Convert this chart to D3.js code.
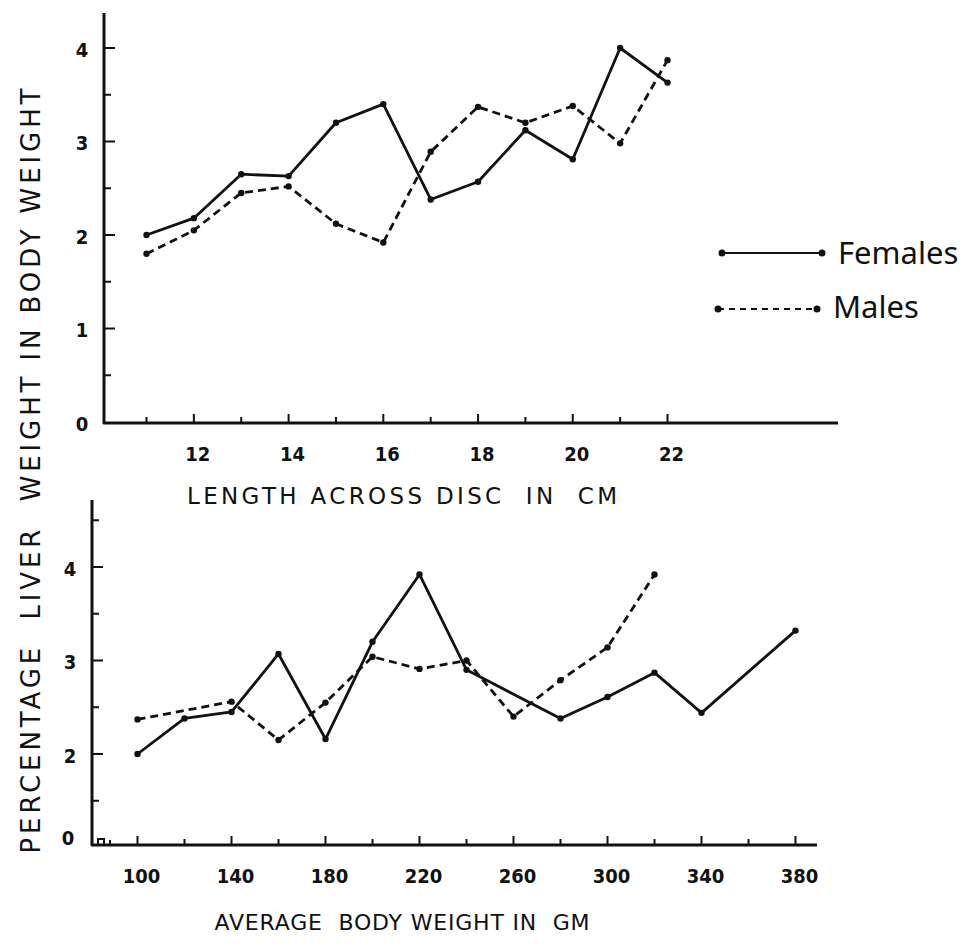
<!DOCTYPE html>
<html>
<head>
<meta charset="utf-8">
<script src="https://cdn.jsdelivr.net/npm/d3@7/dist/d3.min.js"></script>
<style>
  html, body { margin: 0; padding: 0; background: #fff; }
  svg { display: block; }
</style>
</head>
<body>
<svg id="chart" width="970" height="947"></svg>
<script>
// ---------------- DATA ----------------
// Upper panel: length across disc (cm)
const topLengths      = [11, 12, 13, 14, 15, 16, 17, 18, 19, 20, 21, 22];
const topFemales      = [2.00, 2.18, 2.65, 2.63, 3.20, 3.40, 2.38, 2.57, 3.12, 2.81, 4.00, 3.63];
const topMales        = [1.80, 2.05, 2.45, 2.52, 2.12, 1.92, 2.89, 3.37, 3.20, 3.38, 2.98, 3.87];
const topXTickValues  = [11, 12, 13, 14, 15, 16, 17, 18, 19, 20, 21, 22];
const topXTickLabels  = [12, 14, 16, 18, 20, 22];
const topYTickValues  = [0.5, 1, 1.5, 2, 2.5, 3, 3.5, 4];
const topYTickLabels  = [0, 1, 2, 3, 4];

// Lower panel: average body weight (gm)
const botFemaleWeights = [100, 120, 140, 160, 180, 200, 220, 240, 280, 300, 320, 340, 380];
const botFemales       = [2.00, 2.38, 2.45, 3.07, 2.16, 3.20, 3.92, 2.90, 2.38, 2.61, 2.87, 2.44, 3.32];
const botMaleWeights   = [100, 140, 160, 180, 200, 220, 240, 260, 280, 300, 320];
const botMales         = [2.37, 2.56, 2.15, 2.55, 3.04, 2.91, 3.00, 2.40, 2.79, 3.14, 3.92];
const botXTickValues   = [100, 120, 140, 160, 180, 200, 220, 240, 260, 280, 300, 320, 340, 360, 380];
const botXTickLabels   = [100, 140, 180, 220, 260, 300, 340, 380];
const botYTickValues   = [1.5, 2, 2.5, 3, 3.5, 4, 4.5];
const botYTickLabels   = [2, 3, 4];

const seriesNames = ["Females", "Males"];
const xTitleTop = "LENGTH ACROSS DISC  IN  CM";
const xTitleBot = "AVERAGE  BODY WEIGHT IN  GM";
const yTitle = "PERCENTAGE  LIVER  WEIGHT IN BODY WEIGHT";

// ---------------- LAYOUT ----------------
const svg = d3.select("#chart");
const ink = "#111";
const tickFont = "'DejaVu Sans Condensed', 'DejaVu Sans', sans-serif";

// Upper panel geometry
const T = { axisX: 104, axisY: 423, top: 13, right: 838 };
const xTop = d3.scaleLinear().domain([11, 22]).range([146.5, 667.5]);
const yTop = d3.scaleLinear().domain([0, 4]).range([422, 48]);

// Lower panel geometry
const B = { axisX: 92, axisY: 845, top: 500, right: 817 };
const xBot = d3.scaleLinear().domain([100, 380]).range([137.5, 795.5]);
const yBot = d3.scaleLinear().domain([2, 4]).range([754, 567]);

function drawPanel(g, P, xs, ys, xTicks, xLabels, yTicks, yLabels, yZeroLabel) {
  g.append("path")
    .attr("d", `M${P.axisX},${P.top}L${P.axisX},${P.axisY}L${P.right},${P.axisY}`)
    .attr("fill", "none").attr("stroke", ink).attr("stroke-width", 3)
    .attr("stroke-linejoin", "round");

  g.selectAll(".xt").data(xTicks).enter().append("line")
    .attr("x1", d => xs(d)).attr("x2", d => xs(d))
    .attr("y1", P.axisY)
    .attr("y2", d => P.axisY - (xLabels.includes(d) ? 9 : 6))
    .attr("stroke", ink).attr("stroke-width", 2);

  g.selectAll(".xl").data(xLabels).enter().append("text")
    .attr("x", d => xs(d) + 4).attr("y", P.axisY + 38)
    .attr("text-anchor", "middle")
    .attr("font-family", tickFont).attr("font-weight", "bold")
    .attr("font-size", 20).attr("fill", ink)
    .text(d => d);

  g.selectAll(".yt").data(yTicks).enter().append("line")
    .attr("x1", P.axisX).attr("x2", d => P.axisX + (Number.isInteger(d) ? 11 : 7))
    .attr("y1", d => ys(d)).attr("y2", d => ys(d))
    .attr("stroke", ink).attr("stroke-width", 2);

  g.selectAll(".yl").data(yLabels).enter().append("text")
    .attr("x", P.axisX - 22).attr("y", d => ys(d) + 3)
    .attr("text-anchor", "middle").attr("dominant-baseline", "middle")
    .attr("font-family", tickFont).attr("font-weight", "bold")
    .attr("font-size", 20).attr("fill", ink)
    .text(d => d);

  if (yZeroLabel !== null) {
    g.append("text")
      .attr("x", P.axisX - 24).attr("y", P.axisY - 6)
      .attr("text-anchor", "middle").attr("dominant-baseline", "middle")
      .attr("font-family", tickFont).attr("font-weight", "bold")
      .attr("font-size", 20).attr("fill", ink)
      .text(yZeroLabel);
  }
}

function drawSeries(g, xs, ys, xv, yv, dashed) {
  const pts = xv.map((x, i) => [x, yv[i]]);
  const line = d3.line().x(d => xs(d[0])).y(d => ys(d[1]));
  g.append("path").datum(pts)
    .attr("d", line)
    .attr("fill", "none").attr("stroke", ink)
    .attr("stroke-width", 2.8)
    .attr("stroke-dasharray", dashed ? "8,5" : null)
    .attr("stroke-linejoin", "round");
  g.selectAll(null).data(pts).enter().append("circle")
    .attr("cx", d => xs(d[0])).attr("cy", d => ys(d[1]))
    .attr("r", 3.2).attr("fill", ink);
}

// Upper panel
const gTop = svg.append("g");
drawPanel(gTop, T, xTop, yTop, topXTickValues, topXTickLabels, topYTickValues, topYTickLabels, null);
drawSeries(gTop, xTop, yTop, topLengths, topMales, true);
drawSeries(gTop, xTop, yTop, topLengths, topFemales, false);

// Lower panel
const gBot = svg.append("g");
drawPanel(gBot, B, xBot, yBot, botXTickValues, botXTickLabels, botYTickValues, botYTickLabels, 0);
// axis break marks at lower-left corner
gBot.append("path")
  .attr("d", `M${B.axisX + 6},${B.axisY}l0,-6l6,0l0,6M${B.axisX + 18},${B.axisY}l0,-5`)
  .attr("fill", "none").attr("stroke", ink).attr("stroke-width", 2);
drawSeries(gBot, xBot, yBot, botMaleWeights, botMales, true);
drawSeries(gBot, xBot, yBot, botFemaleWeights, botFemales, false);

// Axis titles
const titleFont = "'DejaVu Sans', sans-serif";
svg.append("text")
  .attr("x", 402).attr("y", 504).attr("text-anchor", "middle")
  .attr("font-family", titleFont).attr("font-size", 23).attr("fill", ink)
  .attr("textLength", 430).attr("lengthAdjust", "spacing")
  .style("white-space", "pre")
  .text(xTitleTop);

svg.append("text")
  .attr("x", 402).attr("y", 930).attr("text-anchor", "middle")
  .attr("font-family", titleFont).attr("font-size", 22).attr("fill", ink)
  .attr("textLength", 375).attr("lengthAdjust", "spacing")
  .style("white-space", "pre")
  .text(xTitleBot);

svg.append("text")
  .attr("transform", "translate(40,471) rotate(-90)")
  .attr("text-anchor", "middle")
  .attr("font-family", titleFont).attr("font-size", 26).attr("fill", ink)
  .attr("textLength", 765).attr("lengthAdjust", "spacing")
  .style("white-space", "pre")
  .text(yTitle);

// Legend
const legend = svg.append("g");
const legendRows = [
  { name: seriesNames[0], y: 253, x1: 722, x2: 822, dashed: false, ty: 264 },
  { name: seriesNames[1], y: 309, x1: 718, x2: 817, dashed: true, ty: 318 }
];
legendRows.forEach(r => {
  legend.append("line")
    .attr("x1", r.x1).attr("x2", r.x2).attr("y1", r.y).attr("y2", r.y)
    .attr("stroke", ink).attr("stroke-width", r.dashed ? 1.8 : 2)
    .attr("stroke-dasharray", r.dashed ? "6,5" : null);
  [r.x1, r.x2].forEach(cx => legend.append("circle")
    .attr("cx", cx).attr("cy", r.y).attr("r", 3.5).attr("fill", ink));
  legend.append("text")
    .attr("x", r.x2 + 16).attr("y", r.ty)
    .attr("font-family", "'Noto Sans', sans-serif").attr("font-size", 31)
    .attr("fill", ink)
    .text(r.name);
});
</script>
</body>
</html>
